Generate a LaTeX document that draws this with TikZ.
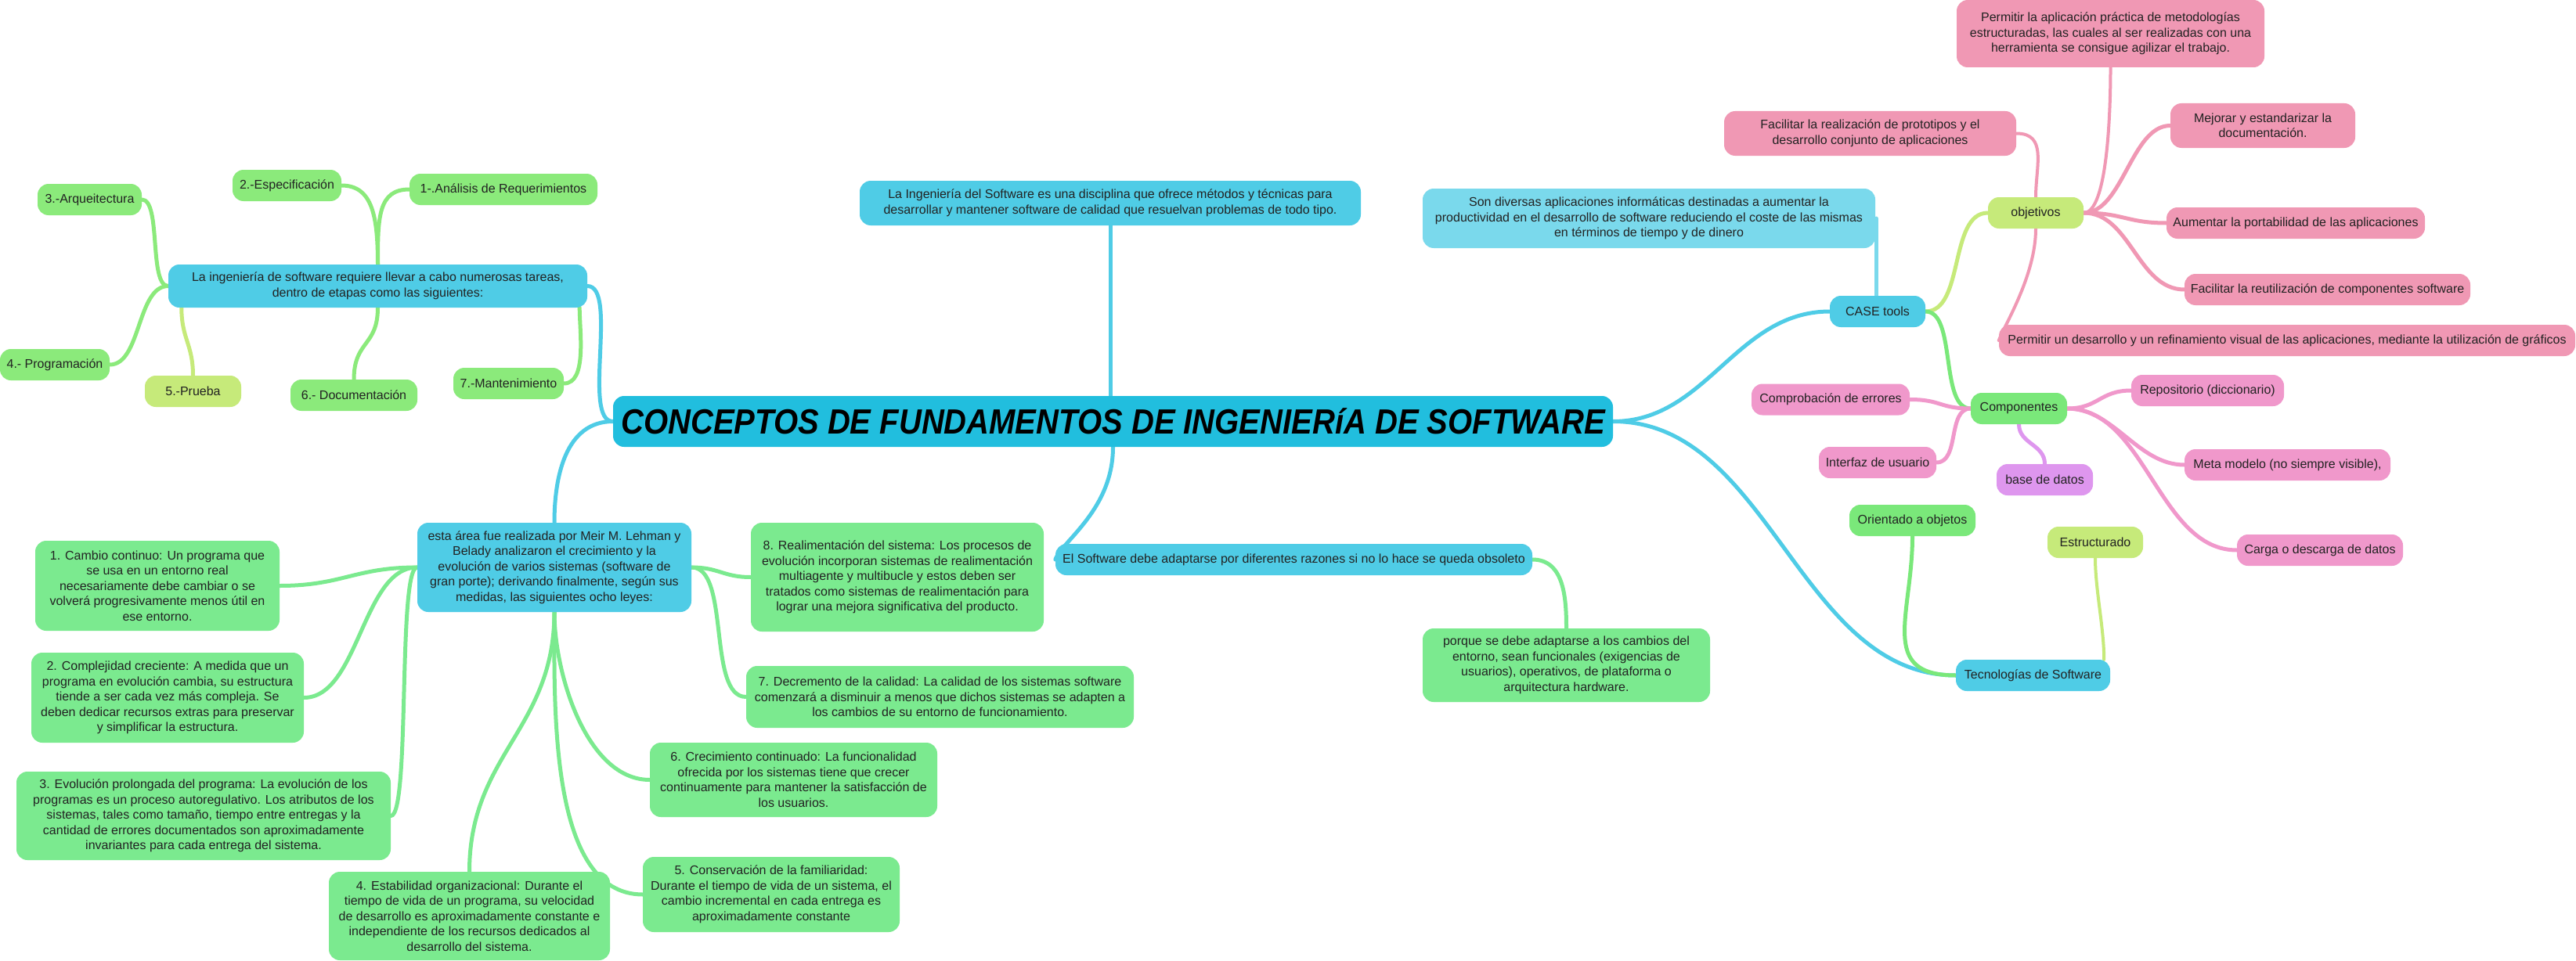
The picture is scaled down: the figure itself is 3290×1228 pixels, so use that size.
\documentclass[tikz,border=0pt]{standalone}
\usepackage{fontspec}
\setmainfont{Liberation Sans}
\usetikzlibrary{backgrounds}

\definecolor{cTitle}{HTML}{21BEDE}
\definecolor{cCyan}{HTML}{4FCCE6}
\definecolor{cCyanL}{HTML}{7AD9EC}
\definecolor{cGreenT}{HTML}{8BEA7B}
\definecolor{cGreenL}{HTML}{7BEA8F}
\definecolor{cGreen}{HTML}{7AE87A}
\definecolor{cLime}{HTML}{C6EA7A}
\definecolor{cPink}{HTML}{F098B4}
\definecolor{cMagenta}{HTML}{F098CB}
\definecolor{cViolet}{HTML}{DE96EE}
\definecolor{cText}{HTML}{222222}

\tikzset{
  box/.style={rounded corners=14pt, inner sep=0pt, align=center, text=cText,
    font=\fontsize{16}{19.5}\selectfont},
  titlebox/.style={rounded corners=14pt, inner sep=0pt, align=center, fill=cTitle,
    text=black, font=\fontsize{40}{46}\selectfont\bfseries\itshape},
  link/.style={line width=5pt, line cap=round},
  thinlink/.style={line width=4pt, line cap=round},
}

\begin{document}
\begin{tikzpicture}[x=1pt,y=-1pt]
\useasboundingbox (0,0) rectangle (3290,1228);

% ---------- central topic ----------
\node[titlebox, minimum width=1277pt, minimum height=65pt] (title) at (1421.5,538.5)
  {\scalebox{1}[1.12]{CONCEPTOS DE FUNDAMENTOS DE INGENIERíA DE SOFTWARE}};

\node[box, fill=cCyan, minimum width=640pt, minimum height=57pt] (disc) at (1418,259.5)
  {La Ingeniería del Software es una disciplina que ofrece métodos y técnicas para\\
   desarrollar y mantener software de calidad que resuelvan problemas de todo tipo.};

% ---------- stages of software engineering ----------
\node[box, fill=cCyan, minimum width=535pt, minimum height=55pt] (ing) at (482.5,365.5)
  {La ingeniería de software requiere llevar a cabo numerosas tareas,\\
   dentro de etapas como las siguientes:};
\node[box, fill=cGreenT, minimum width=139pt, minimum height=40pt] (espec) at (366.5,237) {2.-Especificación};
\node[box, fill=cGreenT, minimum width=240pt, minimum height=40pt] (anal) at (643,242) {1-.Análisis de Requerimientos};
\node[box, fill=cGreenT, minimum width=133pt, minimum height=40pt] (arq) at (114.5,255) {3.-Arqueitectura};
\node[box, fill=cGreenT, minimum width=140pt, minimum height=40pt] (prog) at (70,466) {4.- Programación};
\node[box, fill=cLime, minimum width=123pt, minimum height=40pt] (prueba) at (246.5,500) {5.-Prueba};
\node[box, fill=cGreenT, minimum width=162pt, minimum height=40pt] (doc) at (452,505) {6.- Documentación};
\node[box, fill=cGreenT, minimum width=141pt, minimum height=40pt] (mant) at (649.5,490) {7.-Mantenimiento};

% ---------- Lehman's laws ----------
\node[box, fill=cCyan, minimum width=350pt, minimum height=114pt] (esta) at (708,725)
  {esta área fue realizada por Meir M. Lehman y\\
   Belady analizaron el crecimiento y la\\
   evolución de varios sistemas (software de\\
   gran porte); derivando finalmente, según sus\\
   medidas, las siguientes ocho leyes:};
\node[box, fill=cGreenL, minimum width=312pt, minimum height=115pt] (lawA) at (201,748.5)
  {1. Cambio continuo: Un programa que\\
   se usa en un entorno real\\
   necesariamente debe cambiar o se\\
   volverá progresivamente menos útil en\\
   ese entorno.};
\node[box, fill=cGreenL, minimum width=348pt, minimum height=115pt] (lawB) at (214,891.5)
  {2. Complejidad creciente: A medida que un\\
   programa en evolución cambia, su estructura\\
   tiende a ser cada vez más compleja. Se\\
   deben dedicar recursos extras para preservar\\
   y simplificar la estructura.};
\node[box, fill=cGreenL, minimum width=478pt, minimum height=113pt] (lawC) at (260,1042.5)
  {3. Evolución prolongada del programa: La evolución de los\\
   programas es un proceso autoregulativo. Los atributos de los\\
   sistemas, tales como tamaño, tiempo entre entregas y la\\
   cantidad de errores documentados son aproximadamente\\
   invariantes para cada entrega del sistema.};
\node[box, fill=cGreenL, minimum width=359pt, minimum height=113pt] (lawD) at (599.5,1170.5)
  {4. Estabilidad organizacional: Durante el\\
   tiempo de vida de un programa, su velocidad\\
   de desarrollo es aproximadamente constante e\\
   independiente de los recursos dedicados al\\
   desarrollo del sistema.};
\node[box, fill=cGreenL, minimum width=328pt, minimum height=96pt] (lawE) at (985,1143)
  {5. Conservación de la familiaridad:\\
   Durante el tiempo de vida de un sistema, el\\
   cambio incremental en cada entrega es\\
   aproximadamente constante};
\node[box, fill=cGreenL, minimum width=367pt, minimum height=95pt] (lawF) at (1013.5,996.5)
  {6. Crecimiento continuado: La funcionalidad\\
   ofrecida por los sistemas tiene que crecer\\
   continuamente para mantener la satisfacción de\\
   los usuarios.};
\node[box, fill=cGreenL, minimum width=495pt, minimum height=79pt] (lawG) at (1200.5,890.5)
  {7. Decremento de la calidad: La calidad de los sistemas software\\
   comenzará a disminuir a menos que dichos sistemas se adapten a\\
   los cambios de su entorno de funcionamiento.};
\node[box, fill=cGreenL, minimum width=374pt, minimum height=139pt] (lawH) at (1146,737.5)
  {8. Realimentación del sistema: Los procesos de\\
   evolución incorporan sistemas de realimentación\\
   multiagente y multibucle y estos deben ser\\
   tratados como sistemas de realimentación para\\
   lograr una mejora significativa del producto.};

% ---------- software evolution ----------
\node[box, fill=cCyan, minimum width=609pt, minimum height=40pt] (obso) at (1652.5,715)
  {El Software debe adaptarse por diferentes razones si no lo hace se queda obsoleto};
\node[box, fill=cGreenL, minimum width=367pt, minimum height=94pt] (porque) at (2000.5,850)
  {porque se debe adaptarse a los cambios del\\
   entorno, sean funcionales (exigencias de\\
   usuarios), operativos, de plataforma o\\
   arquitectura hardware.};

% ---------- CASE tools ----------
\node[box, fill=cCyan, minimum width=122pt, minimum height=40pt] (case) at (2398,398) {CASE tools};
\node[box, fill=cCyanL, minimum width=578pt, minimum height=76pt] (diversas) at (2106,279)
  {Son diversas aplicaciones informáticas destinadas a aumentar la\\
   productividad en el desarrollo de software reduciendo el coste de las mismas\\
   en términos de tiempo y de dinero};
\node[box, fill=cLime, minimum width=122pt, minimum height=40pt] (obj) at (2600,272) {objetivos};
\node[box, fill=cPink, minimum width=393pt, minimum height=86pt] (permA) at (2695.5,43)
  {Permitir la aplicación práctica de metodologías\\
   estructuradas, las cuales al ser realizadas con una\\
   herramienta se consigue agilizar el trabajo.};
\node[box, fill=cPink, minimum width=373pt, minimum height=57pt] (facproto) at (2388.5,170.5)
  {Facilitar la realización de prototipos y el\\
   desarrollo conjunto de aplicaciones};
\node[box, fill=cPink, minimum width=236pt, minimum height=57pt] (mejorar) at (2890,160.5)
  {Mejorar y estandarizar la\\ documentación.};
\node[box, fill=cPink, minimum width=330pt, minimum height=40pt] (aumentar) at (2932,285)
  {Aumentar la portabilidad de las aplicaciones};
\node[box, fill=cPink, minimum width=365pt, minimum height=40pt] (reutil) at (2972.5,370)
  {Facilitar la reutilización de componentes software};
\node[box, fill=cPink, minimum width=736pt, minimum height=40pt] (permB) at (2921,435)
  {Permitir un desarrollo y un refinamiento visual de las aplicaciones, mediante la utilización de gráficos};

\node[box, fill=cGreen, minimum width=123pt, minimum height=40pt] (comp) at (2578.5,522) {Componentes};
\node[box, fill=cMagenta, minimum width=202pt, minimum height=40pt] (comprob) at (2338,510.5) {Comprobación de errores};
\node[box, fill=cMagenta, minimum width=150pt, minimum height=40pt] (interfaz) at (2398,591) {Interfaz de usuario};
\node[box, fill=cMagenta, minimum width=195pt, minimum height=40pt] (repos) at (2819.5,499) {Repositorio (diccionario)};
\node[box, fill=cViolet, minimum width=123pt, minimum height=40pt] (base) at (2611.5,613) {base de datos};
\node[box, fill=cMagenta, minimum width=263pt, minimum height=40pt] (meta) at (2921.5,594) {Meta modelo (no siempre visible),};
\node[box, fill=cMagenta, minimum width=212pt, minimum height=40pt] (carga) at (2963,703) {Carga o descarga de datos};

% ---------- software technologies ----------
\node[box, fill=cCyan, minimum width=197pt, minimum height=40pt] (tecno) at (2596.5,863) {Tecnologías de Software};
\node[box, fill=cGreen, minimum width=161pt, minimum height=40pt] (orient) at (2442.5,665) {Orientado a objetos};
\node[box, fill=cLime, minimum width=122pt, minimum height=40pt] (estruct) at (2676,693) {Estructurado};

% ---------- connectors, behind the boxes ----------
\begin{scope}[on background layer]
  \fill[white] (0,0) rectangle (3290,1228);

  % central topic
  \draw[link, cCyan] (disc.south) -- (disc.south |- title.north);
  \draw[link, cCyan] (ing.east) to[out=0, in=180, distance=40pt] (title.west);
  \draw[link, cCyan] (esta.north) to[out=90, in=180, distance=60pt] (title.west);
  \draw[link, cCyan] (title.south) to[out=-90, in=70, out distance=80pt, in distance=25pt] (obso.west);
  \draw[link, cCyan] (title.east) to[out=0, in=180, distance=120pt] (case.west);
  \draw[link, cCyan] (title.east) to[out=0, in=180, distance=200pt] (tecno.west);

  % stages
  \draw[link, cGreenT] (espec.east) to[out=0, in=90, out distance=40pt, in distance=60pt] (ing.north);
  \draw[link, cGreenT] (anal.west) to[out=180, in=90, out distance=40pt, in distance=60pt] (ing.north);
  \draw[link, cGreenT] (arq.east) to[out=0, in=180, distance=25pt] (ing.west);
  \draw[link, cGreenT] (prog.east) to[out=0, in=180, distance=40pt] (ing.west);
  \draw[link, cLime] (prueba.north) to[out=90, in=-90, distance=40pt] ([xshift=17pt]ing.south west);
  \draw[link, cGreenT] (doc.north) to[out=90, in=-90, distance=50pt] (ing.south);
  \draw[link, cGreenT] (mant.east) to[out=0, in=-90, distance=30pt] ([xshift=-10pt]ing.south east);

  % laws
  \draw[link, cGreenL] (lawA.east) to[out=0, in=180, distance=80pt] (esta.west);
  \draw[link, cGreenL] (lawB.east) to[out=0, in=180, distance=70pt] (esta.west);
  \draw[link, cGreenL] (lawC.east) to[out=0, in=180, distance=25pt] (esta.west);
  \draw[link, cGreenL] (lawH.west) to[out=180, in=0, distance=35pt] (esta.east);
  \draw[link, cGreenL] (lawG.west) to[out=180, in=0, distance=50pt] (esta.east);
  \draw[link, cGreenL] (lawF.west) to[out=180, in=-90, distance=80pt] (esta.south);
  \draw[link, cGreenL] (lawE.west) to[out=180, in=-90, distance=120pt] (esta.south);
  \draw[link, cGreenL] (lawD.north) to[out=90, in=-90, distance=150pt] (esta.south);

  % evolution
  \draw[link, cGreenL] (obso.east) to[out=0, in=90, distance=40pt] (porque.north);

  % CASE tools
  \draw[link, cCyanL] ([xshift=-2pt]case.north |- diversas.east) -- ([xshift=-2pt]case.north);
  \draw[link, cLime] (case.east) to[out=0, in=180, distance=50pt] (obj.west);
  \draw[link, cGreen] (case.east) to[out=0, in=180, distance=40pt] (comp.west);

  \draw[thinlink, cPink] (obj.east) to[out=0, in=-90, out distance=30pt, in distance=60pt] (permA.south);
  \draw[thinlink, cPink] (obj.north) to[out=90, in=0, distance=40pt] (facproto.east);
  \draw[thinlink, cPink] (obj.south) to[out=-90, in=70, out distance=60pt, in distance=20pt] (permB.west);
  \draw[link, cPink] (obj.east) to[out=0, in=180, distance=50pt] (mejorar.west);
  \draw[link, cPink] (obj.east) to[out=0, in=180, distance=50pt] (aumentar.west);
  \draw[link, cPink] (obj.east) to[out=0, in=180, distance=60pt] (reutil.west);

  \draw[link, cMagenta] (comp.west) to[out=180, in=0, distance=40pt] (comprob.east);
  \draw[link, cMagenta] (comp.west) to[out=180, in=0, distance=30pt] (interfaz.east);
  \draw[link, cMagenta] (comp.east) to[out=0, in=180, distance=40pt] (repos.west);
  \draw[link, cMagenta] (comp.east) to[out=0, in=180, distance=60pt] (meta.west);
  \draw[link, cMagenta] (comp.east) to[out=0, in=180, distance=100pt] (carga.west);
  \draw[link, cViolet] (comp.south) to[out=-90, in=90, distance=25pt] (base.north);

  % technologies
  \draw[link, cGreen] (orient.south) to[out=-90, in=180, distance=100pt] (tecno.west);
  \draw[thinlink, cLime] (estruct.south) to[out=-90, in=90, distance=40pt] ([xshift=-8pt]tecno.north east);
\end{scope}
\end{tikzpicture}
\end{document}
